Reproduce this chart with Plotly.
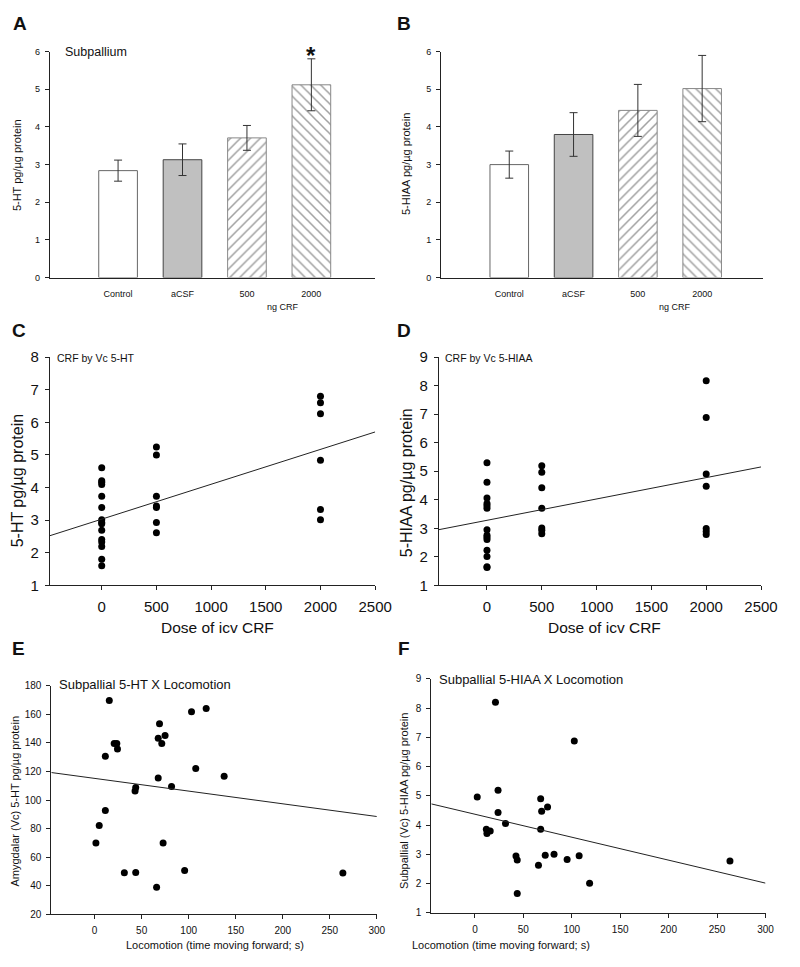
import plotly.graph_objects as go

# page size 800x967; the page's default 8px body margin is accounted for
W, H = 800, 967
OFF = 8
FW, FH = W - 2 * OFF, H - 2 * OFF
FONT = "Liberation Sans, Arial, sans-serif"

# ---------------- data ----------------
categories = ["Control", "aCSF", "500", "2000"]
cat_pos = [0, 1, 2, 3]
bar_fill = ["white", "#c0c0c0", "white", "white"]
bar_pattern = ["", "", "/", "\\"]

ht_means = [2.84, 3.13, 3.71, 5.12]
ht_sem = [0.28, 0.42, 0.33, 0.69]
hiaa_means = [3.00, 3.80, 4.44, 5.02]
hiaa_sem = [0.36, 0.58, 0.69, 0.88]

c_dose = [0, 0, 0, 0, 0, 0, 0, 0, 0, 0, 0, 0, 0, 0, 0,
          500, 500, 500, 500, 500, 500, 500,
          2000, 2000, 2000, 2000, 2000, 2000]
c_ht = [4.61, 4.21, 4.16, 4.09, 3.73, 3.39, 3.01, 2.93, 2.89, 2.69, 2.41, 2.33, 2.19, 1.80, 1.60,
        5.24, 5.00, 3.73, 3.43, 3.39, 2.93, 2.61,
        6.80, 6.60, 6.26, 4.84, 3.33, 3.01]
c_fit = [3.03, 0.00107]  # intercept, slope

d_dose = [0, 0, 0, 0, 0, 0, 0, 0, 0, 0, 0, 0, 0, 0,
          500, 500, 500, 500, 500, 500, 500,
          2000, 2000, 2000, 2000, 2000, 2000, 2000]
d_hiaa = [5.30, 4.61, 4.06, 3.87, 3.79, 3.70, 2.95, 2.76, 2.69, 2.61, 2.23, 2.01, 1.65, 1.63,
          5.19, 4.96, 4.42, 3.70, 3.01, 2.93, 2.81,
          8.17, 6.88, 4.90, 4.47, 2.99, 2.89, 2.78]
d_fit = [3.28, 0.000748]

e_loco = [15.6, 20.8, 23.6, 24.3, 11.4, 103.0, 118.6, 69.0, 67.6, 74.9, 71.4, 107.5, 137.7,
          67.6, 81.8, 43.7, 43.0, 11.4, 4.9, 1.4, 72.8, 31.6, 43.7, 95.7, 65.9, 263.9]
e_ht = [169.7, 139.7, 139.7, 135.8, 130.7, 161.9, 164.2, 153.4, 143.3, 145.2, 139.7, 122.2, 116.7,
        115.4, 109.6, 108.9, 106.4, 92.7, 82.3, 70.0, 70.0, 49.1, 49.3, 50.7, 39.0, 48.9]
e_fit = [115.2, -0.089]

f_loco = [21.2, 102.6, 2.4, 23.9, 23.9, 67.9, 75.0, 68.9, 67.9, 31.6, 11.8, 12.4, 15.8,
          42.4, 43.7, 43.7, 65.6, 72.6, 81.7, 95.2, 107.6, 118.4, 263.3]
f_hiaa = [8.20, 6.88, 4.96, 5.19, 4.43, 4.90, 4.62, 4.47, 3.86, 4.05, 3.86, 3.71, 3.80,
          2.94, 2.80, 1.66, 2.62, 2.97, 3.00, 2.82, 2.95, 2.01, 2.77]
f_fit = [4.37, -0.00786]

# ---------------- layout helpers ----------------
def px_x(p):
    return (p - OFF) / FW

def px_y(p):
    return 1 - (p - OFF) / FH

def dom_x(a, b):
    return [px_x(a), px_x(b)]

def dom_y(top, bottom):
    return [px_y(bottom), px_y(top)]

AX = dict(showline=True, linecolor="#222", linewidth=1, showgrid=False, zeroline=False,
          ticks="outside", tickcolor="#222", ticklen=4, mirror=False)

fig = go.Figure()

for means, sem, xa, ya in [(ht_means, ht_sem, "x", "y"), (hiaa_means, hiaa_sem, "x2", "y2")]:
    fig.add_trace(go.Bar(
        x=cat_pos, y=means, width=0.6, xaxis=xa, yaxis=ya,
        marker=dict(color=bar_fill,
                    line=dict(color=["#666", "#444", "#888", "#888"], width=1),
                    pattern=dict(shape=bar_pattern, fgcolor="#000", bgcolor="white",
                                 size=7, solidity=0.22)),
        error_y=dict(type="data", array=sem, color="#333", thickness=1, width=4),
        showlegend=False))

def scatter_panel(xs, ys, fit, xr, xa, ya):
    fig.add_trace(go.Scatter(x=xs, y=ys, mode="markers", xaxis=xa, yaxis=ya,
                             marker=dict(color="black", size=7), showlegend=False))
    lx = [xr[0], xr[1]]
    ly = [fit[0] + fit[1] * v for v in lx]
    fig.add_trace(go.Scatter(x=lx, y=ly, mode="lines", xaxis=xa, yaxis=ya,
                             line=dict(color="#222", width=1), showlegend=False))

C_XR = [-475, 2500]
D_XR = [-440, 2500]
E_XR = [-46, 300]
F_XR = [-45, 300]
scatter_panel(c_dose, c_ht, c_fit, C_XR, "x3", "y3")
scatter_panel(d_dose, d_hiaa, d_fit, D_XR, "x4", "y4")
scatter_panel(e_loco, e_ht, e_fit, E_XR, "x5", "y5")
scatter_panel(f_loco, f_hiaa, f_fit, F_XR, "x6", "y6")

f9 = dict(family=FONT, size=9, color="#111")
f15 = dict(family=FONT, size=15, color="#111")
f10 = dict(family=FONT, size=10, color="#111")

barx = dict(AX, ticks="", tickvals=cat_pos, ticktext=categories, tickfont=f9,
            ticklabelstandoff=8)
bary = dict(AX, range=[0, 6], dtick=1, tickfont=f9, ticklabelstandoff=3)

fig.update_layout(
    width=FW, height=FH, margin=dict(l=0, r=0, t=0, b=0),
    paper_bgcolor="white", plot_bgcolor="white",
    font=dict(family=FONT, color="#111"),
    xaxis=dict(barx, domain=dom_x(50.7, 383.3), range=[-1.06, 3.99], anchor="y"),
    yaxis=dict(bary, domain=dom_y(43.3, 273.3), anchor="x"),
    xaxis2=dict(barx, domain=dom_x(450.7, 780), range=[-1.06, 3.95], anchor="y2"),
    yaxis2=dict(bary, domain=dom_y(43.3, 273.3), anchor="x2"),
    xaxis3=dict(AX, domain=dom_x(50.7, 383.3), range=C_XR, tickvals=[0, 500, 1000, 1500, 2000, 2500],
                tickfont=f15, ticklabelstandoff=4, anchor="y3"),
    yaxis3=dict(AX, domain=dom_y(354.3, 586.7), range=[1, 8], dtick=1, tickfont=f15,
                ticklabelstandoff=3, anchor="x3"),
    xaxis4=dict(AX, domain=dom_x(448.3, 777.7), range=D_XR, tickvals=[0, 500, 1000, 1500, 2000, 2500],
                tickfont=f15, ticklabelstandoff=4, anchor="y4"),
    yaxis4=dict(AX, domain=dom_y(354.3, 586.7), range=[1, 9], dtick=1, tickfont=f15,
                ticklabelstandoff=3, anchor="x4"),
    xaxis5=dict(AX, domain=dom_x(52.3, 385), range=E_XR, tickvals=[0, 50, 100, 150, 200, 250, 300],
                tickfont=f10, ticklabelstandoff=3, anchor="y5"),
    yaxis5=dict(AX, domain=dom_y(689, 921.7), range=[20, 180], dtick=20, tickfont=f10,
                ticklabelstandoff=3, anchor="x5"),
    xaxis6=dict(AX, domain=dom_x(440.7, 782.3), range=F_XR, tickvals=[0, 50, 100, 150, 200, 250, 300],
                tickfont=f10, ticklabelstandoff=3, anchor="y6"),
    yaxis6=dict(AX, domain=dom_y(682, 920), range=[1, 9], dtick=1, tickfont=f10,
                ticklabelstandoff=3, anchor="x6"),
)

anns = []

def ann(text, xp, yp, size, xanchor="center", angle=0, bold=False):
    t = f"<b>{text}</b>" if bold else text
    anns.append(dict(text=t, x=px_x(xp), y=px_y(yp), xref="paper", yref="paper",
                     xanchor=xanchor, yanchor="middle", textangle=angle, showarrow=False,
                     font=dict(family=FONT, size=size, color="#111")))

for letter, xp, yp in [("A", 20, 15), ("B", 413, 15), ("C", 19, 327), ("D", 413, 327),
                       ("E", 19, 651), ("F", 413, 651)]:
    ann(letter, xp, yp, 19, bold=True)

ann("Subpallium", 64, 44, 12.5, xanchor="left")
ann("CRF by Vc 5-HT", 56, 355, 10.5, xanchor="left")
ann("CRF by Vc 5-HIAA", 453, 355, 10.5, xanchor="left")
ann("Subpallial 5-HT X Locomotion", 58, 688, 13, xanchor="left")
ann("Subpallial 5-HIAA X Locomotion", 446, 683, 13, xanchor="left")
ann("*", 318, 47, 24, bold=True)
ann("ng CRF", 289.5, 303, 9)
ann("ng CRF", 689.5, 303, 9)
ann("5-HT pg/µg protein", 17, 159, 11, angle=-90)
ann("5-HIAA pg/µg protein", 415, 157.5, 11, angle=-90)
ann("5-HT pg/µg protein", 18, 480, 16, angle=-90)
ann("5-HIAA pg/µg protein", 415, 482.5, 16, angle=-90)
ann("Dose of icv CRF", 222, 630, 15.5)
ann("Dose of icv CRF", 618, 630, 15.5)
ann("Amygdalar (Vc) 5-HT pg/µg protein", 15, 806, 11, angle=-90)
ann("Subpallial (Vc) 5-HIAA pg/µg protein", 413, 806, 11, angle=-90)
ann("Locomotion (time moving forward; s)", 220, 953, 11)
ann("Locomotion (time moving forward; s)", 512, 953, 11)

fig.update_layout(annotations=anns)
fig.write_html("out.html")
